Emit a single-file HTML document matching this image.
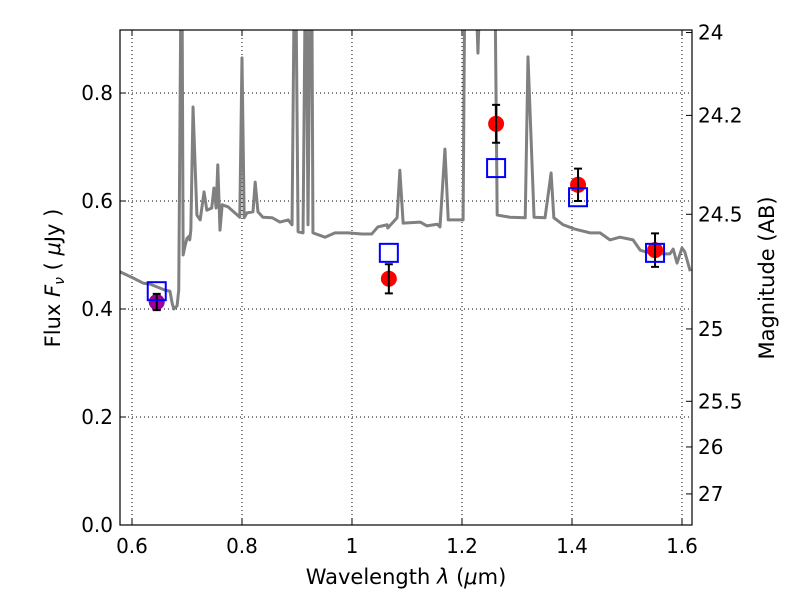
<!DOCTYPE html>
<html><head><meta charset="utf-8"><style>
body{margin:0;background:#fff}
svg text{font-family:"DejaVu Sans","Liberation Sans",sans-serif;fill:#000}
</style></head><body>
<svg id="chart" width="800" height="600" viewBox="0 0 800 600" xmlns="http://www.w3.org/2000/svg">
<defs><clipPath id="clip"><rect x="120" y="30" width="572" height="495"/></clipPath></defs>
<rect x="0" y="0" width="800" height="600" fill="#fff"/>
<g id="grid"></g>
<g id="spec" clip-path="url(#clip)"></g>
<g id="marks" clip-path="url(#clip)"></g>
<rect x="120" y="30" width="572" height="495" fill="none" stroke="#000" stroke-width="1.2"/>
<g id="axes"></g>
<text x="406" y="584" font-size="21" text-anchor="middle">Wavelength  <tspan font-style="italic">λ</tspan> (<tspan font-style="italic">μ</tspan>m)</text>
<text transform="translate(60,278) rotate(-90)" font-size="21" text-anchor="middle">Flux  <tspan font-style="italic">F<tspan font-size="14" dy="4">ν</tspan></tspan><tspan dy="-4">  ( </tspan><tspan font-style="italic">μ</tspan>Jy )</text>
<text transform="translate(774,278) rotate(-90)" font-size="21" text-anchor="middle">Magnitude (AB)</text>
</svg>
<script>
const specWave=[0.578,0.605,0.620,0.633,0.660,0.669,0.673,0.676,0.682,0.685,0.689,0.691,0.693,0.696,0.700,0.704,0.705,0.707,0.711,0.718,0.724,0.731,0.736,0.745,0.749,0.753,0.756,0.760,0.764,0.775,0.796,0.800,0.804,0.809,0.820,0.824,0.829,0.838,0.855,0.869,0.884,0.891,0.895,0.898,0.902,0.911,0.915,0.917,0.920,0.924,0.927,0.929,0.951,0.969,0.993,1.018,1.036,1.047,1.064,1.065,1.082,1.087,1.093,1.124,1.136,1.155,1.160,1.169,1.175,1.202,1.205,1.225,1.229,1.233,1.260,1.264,1.287,1.315,1.320,1.331,1.351,1.362,1.367,1.384,1.405,1.433,1.451,1.469,1.487,1.511,1.524,1.547,1.578,1.584,1.591,1.600,1.605,1.615];
const specFlux=[0.469,0.456,0.448,0.446,0.435,0.433,0.411,0.400,0.406,0.435,1.0,1.0,0.500,0.515,0.531,0.535,0.528,0.546,0.774,0.574,0.565,0.617,0.583,0.587,0.624,0.587,0.667,0.546,0.593,0.589,0.570,0.865,0.569,0.578,0.580,0.635,0.580,0.570,0.569,0.561,0.565,0.556,1.0,1.0,0.543,0.541,1.0,1.0,0.556,1.0,1.0,0.541,0.533,0.541,0.541,0.539,0.539,0.552,0.556,0.550,0.569,0.657,0.559,0.561,0.554,0.557,0.552,0.696,0.565,0.565,1.0,1.0,0.874,1.0,1.0,0.574,0.570,0.569,0.867,0.570,0.569,0.652,0.569,0.556,0.548,0.541,0.541,0.528,0.533,0.528,0.509,0.502,0.502,0.511,0.485,0.513,0.506,0.470];
const obsWave=[0.645,1.067,1.262,1.411,1.551];
const obsFlux=[0.413,0.456,0.743,0.630,0.509];
const obsErr=[0.015,0.027,0.035,0.030,0.031];
const modelFlux=[0.433,0.504,0.661,0.607,0.504];
const obsColors=['#990099','#ff0000','#ff0000','#ff0000','#ff0000'];
const xTicks=[0.6,0.8,1.0,1.2,1.4,1.6];
const xTickLabels=['0.6','0.8','1','1.2','1.4','1.6'];
const yTicks=[0,0.2,0.4,0.6,0.8];
const yTickLabels=['0.0','0.2','0.4','0.6','0.8'];
const magTicks=[24,24.2,24.5,25,25.5,26,27];
const magTickLabels=['24','24.2','24.5','25','25.5','26','27'];

const X0=120,X1=692,Y0=525,Y1=30,xmin=0.5782,xmax=1.6182,ymin=0,ymax=0.9167;
const xs=v=>X0+(v-xmin)/(xmax-xmin)*(X1-X0);
const ys=v=>Y0-(v-ymin)/(ymax-ymin)*(Y0-Y1);
const magY=m=>ys(Math.pow(10,(23.9-m)/2.5));
const NS='http://www.w3.org/2000/svg';
function mk(tag,attrs,parent){const e=document.createElementNS(NS,tag);for(const k in attrs)e.setAttribute(k,attrs[k]);parent.appendChild(e);return e;}
const grid=document.getElementById('grid'),axes=document.getElementById('axes'),spec=document.getElementById('spec'),marks=document.getElementById('marks');
xTicks.forEach((t,i)=>{const x=xs(t);
 if(x>X0+1&&x<X1-1){const g=mk('line',{x1:x,x2:x,y1:Y1,y2:Y0,stroke:'#000','stroke-width':1,'stroke-dasharray':'1,3'},grid);
 }
 const tk=mk('path',{d:`M${x},${Y0}v-6M${x},${Y1}v6`,stroke:'#000','stroke-width':1},axes);
 
 const l=mk('text',{x:x,y:553,'font-size':20,'text-anchor':'middle'},axes);l.textContent=xTickLabels[i];
 });
yTicks.forEach((t,i)=>{const y=ys(t);
 if(y<Y0-1){const g=mk('line',{x1:X0,x2:X1,y1:y,y2:y,stroke:'#000','stroke-width':1,'stroke-dasharray':'1,3'},grid);
 }
 const tk=mk('path',{d:`M${X0},${y}h6`,stroke:'#000','stroke-width':1},axes);
 
 const l=mk('text',{x:113,y:y+7,'font-size':20,'text-anchor':'end'},axes);l.textContent=yTickLabels[i];
 });
magTicks.forEach((m,i)=>{const y=magY(m);
 const tk=mk('path',{d:`M${X1},${y}h-6`,stroke:'#000','stroke-width':1},axes);
 
 const l=mk('text',{x:698,y:y+7,'font-size':20,'text-anchor':'start'},axes);l.textContent=magTickLabels[i];
 });
const p=mk('polyline',{points:specWave.map((w,i)=>xs(w)+','+ys(specFlux[i])).join(' '),fill:'none',stroke:'#808080','stroke-width':3,'stroke-linejoin':'round'},spec);

obsWave.forEach((w,i)=>{const x=xs(w);
 const c=mk('circle',{cx:x,cy:ys(obsFlux[i]),r:8,fill:obsColors[i]},marks);
 
 const yt=ys(obsFlux[i]+obsErr[i]),yb=ys(obsFlux[i]-obsErr[i]);
 const e=mk('path',{d:`M${x},${yt}V${yb}M${x-4},${yt}h8M${x-4},${yb}h8`,stroke:'#000','stroke-width':2},marks);
 
 const s=mk('rect',{x:x-9,y:ys(modelFlux[i])-9,width:18,height:18,fill:'none',stroke:'#0000ff','stroke-width':2},marks);
 });
</script>
</body></html>
